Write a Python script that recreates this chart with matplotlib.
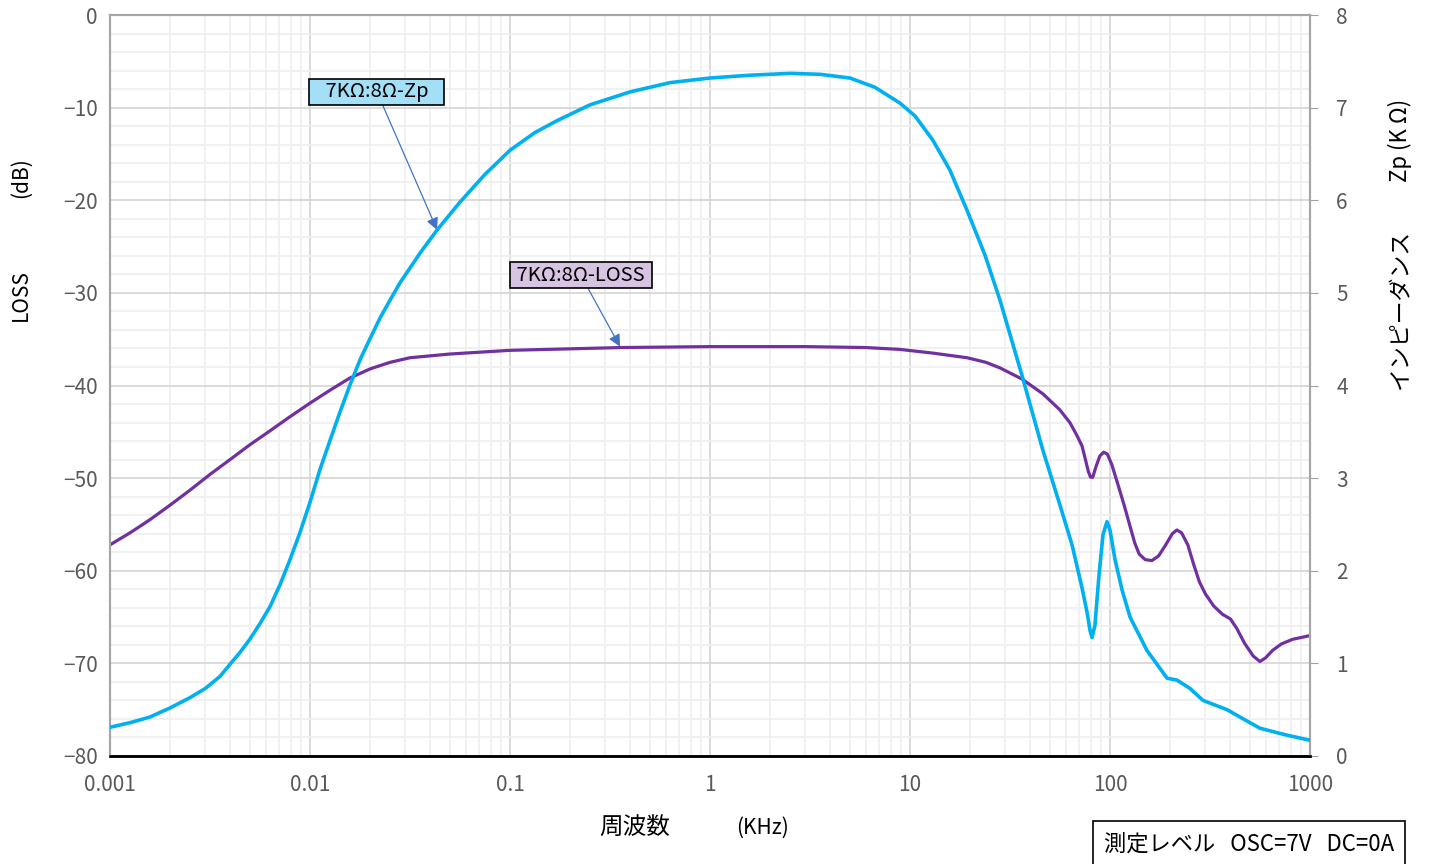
import numpy as np
import matplotlib
matplotlib.use("Agg")
import matplotlib.pyplot as plt
from matplotlib.ticker import FixedLocator, NullFormatter

plt.rcParams['font.family'] = ['Noto Sans CJK JP', 'DejaVu Sans']

# ---- data (frequency in kHz) ----
zp_freq = [0.001, 0.00126, 0.00158, 0.002, 0.00251, 0.003, 0.00355, 0.00398, 0.00447,
           0.005, 0.00562, 0.0063, 0.00708, 0.00794, 0.0089, 0.01, 0.0112, 0.0126,
           0.0141, 0.0158, 0.0178, 0.02, 0.0224, 0.0251, 0.0282, 0.0355, 0.0432, 0.0562,
           0.075, 0.1, 0.133, 0.172, 0.251, 0.398, 0.631, 1.0, 1.58, 2.51, 3.55, 5.01,
           6.68, 8.9, 10.6, 13.0, 15.8, 19.3, 23.7, 28.2, 36.3, 46.2, 56.2, 64.6, 72.4,
           77.0, 79.4, 81.3, 84.1, 88.1, 92.3, 96.6, 100.0, 106.0, 115.0, 126.0, 153.0,
           193.0, 216.0, 251.0, 292.0, 385.0, 473.0, 562.0, 750.0, 1000.0]
zp_kohm = [0.31, 0.36, 0.42, 0.52, 0.63, 0.73, 0.86, 0.99, 1.12,
           1.26, 1.43, 1.61, 1.85, 2.12, 2.41, 2.74, 3.09, 3.41,
           3.71, 4.00, 4.28, 4.51, 4.73, 4.92, 5.11, 5.43, 5.68, 5.98,
           6.28, 6.54, 6.73, 6.86, 7.03, 7.17, 7.27, 7.32, 7.35, 7.37, 7.36, 7.32,
           7.22, 7.05, 6.91, 6.65, 6.33, 5.89, 5.41, 4.92, 4.11, 3.30, 2.71, 2.28, 1.82,
           1.54, 1.36, 1.28, 1.41, 1.95, 2.39, 2.53, 2.44, 2.12, 1.79, 1.50, 1.14,
           0.84, 0.82, 0.73, 0.60, 0.50, 0.39, 0.30, 0.23, 0.17]

loss_freq = [0.001, 0.00126, 0.00158, 0.002, 0.00251, 0.00316, 0.00398, 0.005, 0.0063,
             0.0079, 0.01, 0.0126, 0.0158, 0.02, 0.0251, 0.0316, 0.05, 0.1, 0.36, 1.0,
             3.0, 6.0, 8.9, 13.0, 19.3, 24.0, 28.2, 36.3, 46.2, 56.0, 63.0, 68.0, 72.4,
             75.0, 78.0, 80.0, 82.0, 85.0, 89.0, 93.0, 97.0, 102.0, 110.0, 118.0, 126.0,
             133.0, 140.0, 150.0, 162.0, 175.0, 190.0, 205.0, 216.0, 228.0, 245.0,
             262.0, 280.0, 300.0, 330.0, 365.0, 400.0, 430.0, 470.0, 520.0, 562.0,
             600.0, 650.0, 720.0, 820.0, 1000.0]
loss_db = [-57.2, -55.9, -54.5, -52.9, -51.3, -49.6, -48.0, -46.4, -44.9,
           -43.4, -41.9, -40.5, -39.2, -38.2, -37.5, -37.0, -36.6, -36.2, -35.9, -35.8,
           -35.8, -35.9, -36.1, -36.5, -37.0, -37.5, -38.1, -39.3, -40.9, -42.6, -44.0,
           -45.3, -46.5, -47.8, -49.3, -49.9, -49.9, -48.8, -47.6, -47.2, -47.4, -48.5,
           -50.8, -53.0, -55.2, -57.0, -58.2, -58.8, -58.9, -58.4, -57.2, -56.0, -55.6,
           -55.9, -57.2, -59.3, -61.2, -62.5, -63.8, -64.7, -65.2, -66.2, -67.8, -69.2,
           -69.8, -69.4, -68.6, -67.9, -67.4, -67.0]

x_ticks = [0.001, 0.01, 0.1, 1, 10, 100, 1000]
x_ticklabels = ["0.001", "0.01", "0.1", "1", "10", "100", "1000"]
left_ticks = list(range(-80, 1, 10))
right_ticks = list(range(0, 9))

ZP_COLOR = "#00b0f0"
LOSS_COLOR = "#7030a0"
TICK_COLOR = "#595959"

fig = plt.figure(figsize=(14.29, 8.64), dpi=100)
ax = fig.add_axes([0.077, 0.125, 0.8397, 0.8576])
ax2 = ax.twinx()

ax.set_xscale("log")
ax.set_xlim(0.001, 1000)
ax.set_ylim(-80, 0)
ax2.set_ylim(0, 8)

# grid
minor_x = [m * 10.0 ** e for e in range(-3, 3) for m in range(2, 10)]
ax.xaxis.set_minor_locator(FixedLocator(minor_x))
ax.xaxis.set_minor_formatter(NullFormatter())
ax.yaxis.set_minor_locator(FixedLocator(list(range(-80, 1, 2))))
ax.grid(which="major", color="#d4d4d4", linewidth=1.2)
ax.grid(which="minor", color="#efefef", linewidth=1.2)
ax.set_axisbelow(True)

ax.set_xticks(x_ticks)
ax.set_xticklabels(x_ticklabels)
ax.set_yticks(left_ticks)
ax.set_yticklabels([str(v).replace("-", "\u2212") for v in left_ticks])
ax2.set_yticks(right_ticks)

ax.tick_params(axis="both", which="both", length=0, labelsize=15,
               labelcolor=TICK_COLOR, pad=9)
ax.tick_params(axis="x", pad=13)
ax2.tick_params(axis="y", length=6, color="#a0a0a0", labelsize=15,
                labelcolor=TICK_COLOR, pad=13)

for a in (ax, ax2):
    for s in ("top", "left", "right"):
        a.spines[s].set_color("#a6a6a6")
        a.spines[s].set_linewidth(1.5)
    a.spines["bottom"].set_color("#000000")
    a.spines["bottom"].set_linewidth(1.8)

ax.plot(loss_freq, loss_db, color=LOSS_COLOR, linewidth=2.3, zorder=3)
ax2.plot(zp_freq, zp_kohm, color=ZP_COLOR, linewidth=2.6, zorder=3)

# callouts
arrow = dict(arrowstyle="-|>", color="#4472c4", linewidth=0.9,
             mutation_scale=18, shrinkA=0, shrinkB=0)
ax.annotate("   7KΩ:8Ω-Zp   ", xy=(0.0432, -23.2), xytext=(0.0216, -8.3),
            ha="center", va="center", fontsize=14.5,
            bbox=dict(boxstyle="square,pad=0.12", facecolor="#a3e0f7",
                      edgecolor="#000000", linewidth=1.2),
            arrowprops=arrow, zorder=5)
ax.annotate(" 7KΩ:8Ω-LOSS ", xy=(0.355, -35.8), xytext=(0.226, -28.1),
            ha="center", va="center", fontsize=14.5,
            bbox=dict(boxstyle="square,pad=0.12", facecolor="#d6c4e2",
                      edgecolor="#000000", linewidth=1.2),
            arrowprops=arrow, zorder=5)

# axis labels
fig.text(0.0145, 1 - 295 / 864, "LOSS", rotation=90, ha="center", va="center",
         fontsize=15)
fig.text(0.0145, 1 - 178 / 864, "(dB)", rotation=90, ha="center", va="center",
         fontsize=15)
fig.text(0.980, 1 - 310 / 864, "インピーダンス", rotation=90, ha="center",
         va="center", fontsize=16.5)
fig.text(0.980, 1 - 140 / 864, "Zp (K Ω)", rotation=90, ha="center",
         va="center", fontsize=16)
fig.text(635 / 1429, 1 - 828 / 864, "周波数", ha="center", va="center", fontsize=17)
fig.text(763 / 1429, 1 - 828 / 864, "(KHz)", ha="center", va="center", fontsize=15)

fig.text(1249 / 1429, 1 - 844 / 864, "測定レベル   OSC=7V   DC=0A", ha="center",
         va="center", fontsize=16,
         bbox=dict(boxstyle="square,pad=0.5", facecolor="white",
                   edgecolor="#000000", linewidth=1.2))

fig.savefig("out.png", dpi=100)
